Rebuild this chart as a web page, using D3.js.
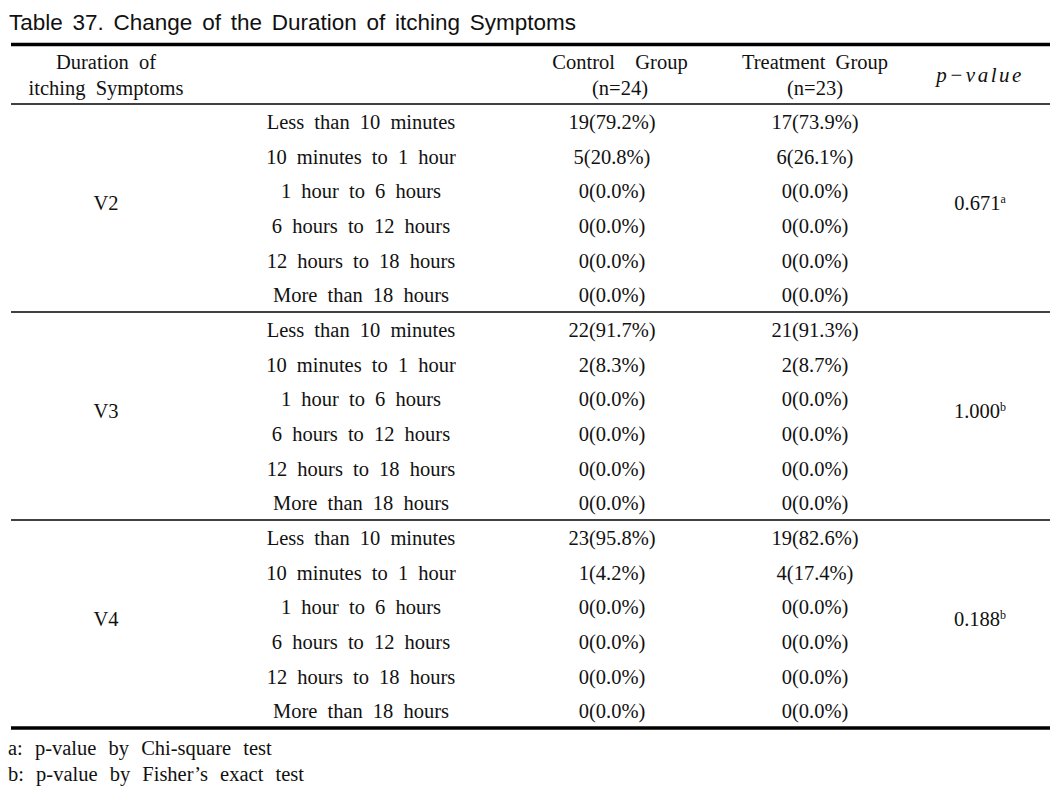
<!DOCTYPE html>
<html>
<head>
<meta charset="utf-8">
<script src="https://cdn.jsdelivr.net/npm/d3@7"></script>
<style>
  html, body { margin: 0; padding: 0; background: #fff; }
  svg { display: block; }
  .body { font-family: "Liberation Serif", "DejaVu Serif", serif; font-size: 20.5px; fill: #111; word-spacing: 5px; }
  .title { font-family: "Liberation Sans", Arial, sans-serif; font-size: 22.5px; fill: #111; word-spacing: 3.5px; }
</style>
</head>
<body>
<script>
const title = "Table 37. Change of the Duration of itching Symptoms";
const visits = ["V2", "V3", "V4"];
const durations = ["Less than 10 minutes", "10 minutes to 1 hour", "1 hour to 6 hours",
                   "6 hours to 12 hours", "12 hours to 18 hours", "More than 18 hours"];
const controlN = [[19, 5, 0, 0, 0, 0], [22, 2, 0, 0, 0, 0], [23, 1, 0, 0, 0, 0]];
const controlPct = [["79.2", "20.8", "0.0", "0.0", "0.0", "0.0"],
                    ["91.7", "8.3", "0.0", "0.0", "0.0", "0.0"],
                    ["95.8", "4.2", "0.0", "0.0", "0.0", "0.0"]];
const treatN = [[17, 6, 0, 0, 0, 0], [21, 2, 0, 0, 0, 0], [19, 4, 0, 0, 0, 0]];
const treatPct = [["73.9", "26.1", "0.0", "0.0", "0.0", "0.0"],
                  ["91.3", "8.7", "0.0", "0.0", "0.0", "0.0"],
                  ["82.6", "17.4", "0.0", "0.0", "0.0", "0.0"]];
const pValues = ["0.671", "1.000", "0.188"];
const pNotes = ["a", "b", "b"];
const headerCols = [["Duration of", "itching Symptoms"], ["Control  Group", "(n=24)"], ["Treatment Group", "(n=23)"]];
const footnotes = ["a: p-value by Chi-square test", "b: p-value by Fisher\u2019s exact test"];

const W = 1059, H = 796;
const svg = d3.select("body").append("svg").attr("width", W).attr("height", H);

const left = 11, right = 1050;
const tableTop = 44.5, headerBottom = 104, tableBottom = 728;

const colX = { group: 106, dur: 361, ctrl: 612, trt: 815, p: 980 };

const rows = [];
visits.forEach((v, gi) => durations.forEach((d, di) => rows.push({ gi, di })));
const y = d3.scaleBand().domain(d3.range(rows.length)).range([headerBottom, tableBottom]);
const groupY = d3.scaleBand().domain(visits).range([headerBottom, tableBottom]);

// title
svg.append("text").attr("class", "title").attr("x", 9).attr("y", 30).text(title);

// rules
svg.append("line").attr("x1", left).attr("x2", right).attr("y1", tableTop).attr("y2", tableTop)
  .attr("stroke", "#000").attr("stroke-width", 3.5);
svg.append("line").attr("x1", left).attr("x2", right).attr("y1", headerBottom).attr("y2", headerBottom)
  .attr("stroke", "#000").attr("stroke-width", 1.5);
visits.slice(1).forEach(v => {
  const yy = groupY(v);
  svg.append("line").attr("x1", left).attr("x2", right).attr("y1", yy).attr("y2", yy)
    .attr("stroke", "#000").attr("stroke-width", 1.5);
});
svg.append("line").attr("x1", left).attr("x2", right).attr("y1", tableBottom).attr("y2", tableBottom)
  .attr("stroke", "#000").attr("stroke-width", 3.5);

// header
const hx = [colX.group, 620, colX.trt];
headerCols.forEach((lines, i) => {
  lines.forEach((t, j) => {
    svg.append("text").attr("class", "body").attr("x", hx[i]).attr("y", 69 + j * 26)
      .attr("text-anchor", "middle").style("white-space", "pre").text(t);
  });
});
svg.append("text").attr("class", "body").attr("x", colX.p).attr("y", 82)
  .attr("text-anchor", "middle").style("font-style", "italic").style("letter-spacing", "2.5px")
  .style("font-size", "21px")
  .text("p\u2212value");

// body rows
const g = svg.append("g");
rows.forEach((r, i) => {
  const yc = y(i) + y.bandwidth() / 2 + 7.5;
  g.append("text").attr("class", "body").attr("x", colX.dur).attr("y", yc).attr("text-anchor", "middle")
    .text(durations[r.di]);
  g.append("text").attr("class", "body").attr("x", colX.ctrl).attr("y", yc).attr("text-anchor", "middle")
    .text(`${controlN[r.gi][r.di]}(${controlPct[r.gi][r.di]}%)`);
  g.append("text").attr("class", "body").attr("x", colX.trt).attr("y", yc).attr("text-anchor", "middle")
    .text(`${treatN[r.gi][r.di]}(${treatPct[r.gi][r.di]}%)`);
});

visits.forEach((v, gi) => {
  const yc = groupY(v) + groupY.bandwidth() / 2 + 2;
  g.append("text").attr("class", "body").attr("x", colX.group).attr("y", yc).attr("text-anchor", "middle").text(v);
  const t = g.append("text").attr("class", "body").attr("x", colX.p).attr("y", yc).attr("text-anchor", "middle");
  t.append("tspan").text(pValues[gi]);
  t.append("tspan").attr("dy", -7).style("font-size", "12px").text(pNotes[gi]);
});

// footnotes
footnotes.forEach((f, i) => {
  svg.append("text").attr("class", "body").attr("x", 8).attr("y", 755 + i * 26)
    .style("font-size", "20.5px").style("word-spacing", "7px").text(f);
});
</script>
</body>
</html>
